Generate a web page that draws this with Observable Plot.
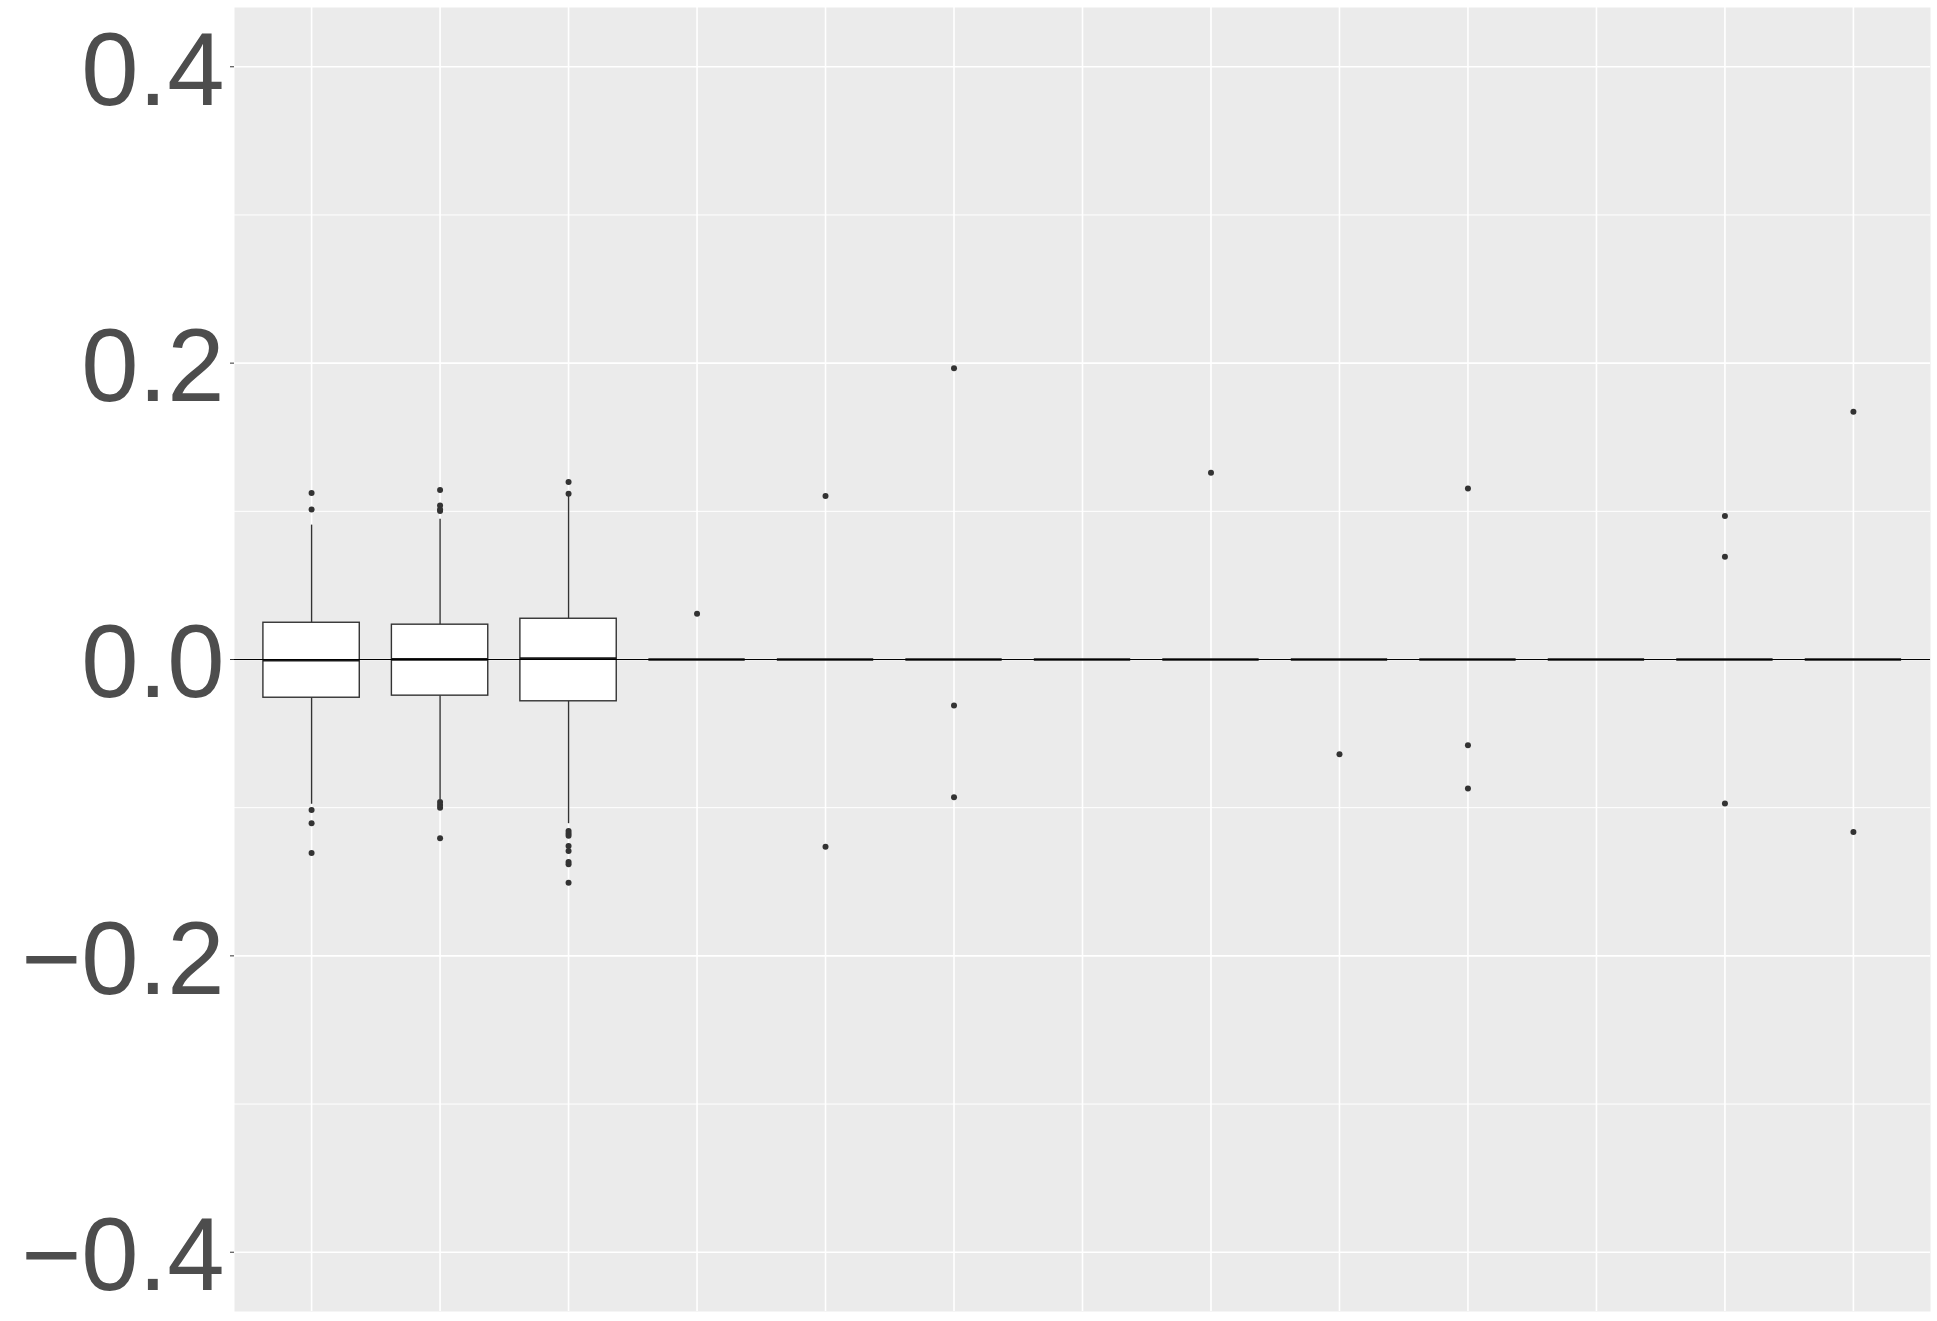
<!DOCTYPE html>
<html>
<head>
<meta charset="utf-8">
<script src="https://cdn.jsdelivr.net/npm/d3@7"></script>
<script src="https://cdn.jsdelivr.net/npm/@observablehq/plot@0.6"></script>
<style>
  html, body { margin: 0; padding: 0; background: #ffffff; }
  svg { display: block; }
</style>
</head>
<body>
<div id="chart"></div>
<script>
// ---- data ----
const categories = ["1","2","3","4","5","6","7","8","9","10","11","12","13"];
const q1        = [-0.0258, -0.0244, -0.0282, 0, 0, 0, 0, 0, 0, 0, 0, 0, 0];
const medians   = [-0.0005,  0.0001,  0.0006, 0, 0, 0, 0, 0, 0, 0, 0, 0, 0];
const q3        = [ 0.0248,  0.0235,  0.0275, 0, 0, 0, 0, 0, 0, 0, 0, 0, 0];
const whiskerLo = [-0.0977, -0.0945, -0.1108, 0, 0, 0, 0, 0, 0, 0, 0, 0, 0];
const whiskerHi = [ 0.0907,  0.0946,  0.1103, 0, 0, 0, 0, 0, 0, 0, 0, 0, 0];

const outlierCat = [
  "1","1","1","1","1",
  "2","2","2","2","2","2","2","2",
  "3","3","3","3","3","3","3","3","3","3",
  "4",
  "5","5",
  "6","6","6",
  "8",
  "9",
  "10","10","10",
  "12","12","12",
  "13","13"
];
const outlierValue = [
  0.1123, 0.1013, -0.1016, -0.1105, -0.1306,
  0.1144, 0.1040, 0.1013, 0.1002, -0.0962, -0.0982, -0.1000, -0.1207,
  0.1198, 0.1119, -0.1157, -0.1175, -0.1190, -0.1258, -0.1292, -0.1366, -0.1382, -0.1506,
  0.0308,
  0.1104, -0.1263,
  0.1965, -0.0311, -0.0930,
  0.1260,
  -0.0639,
  0.1154, -0.0578, -0.0870,
  0.0969, 0.0694, -0.0971,
  0.1672, -0.1164
];

const yMajorTicks = [-0.4, -0.2, 0, 0.2, 0.4];
const yMinorTicks = [-0.3, -0.1, 0.1, 0.3];

// ---- tables built from the arrays ----
const boxes = categories.map((c, i) => ({
  cat: c, q1: q1[i], med: medians[i], q3: q3[i], lo: whiskerLo[i], hi: whiskerHi[i]
}));
const outliers = outlierCat.map((c, i) => ({cat: c, value: outlierValue[i]}));

const chart = Plot.plot({
  width: 1937,
  height: 1321,
  marginLeft: 234,
  marginRight: 7,
  marginTop: 7,
  marginBottom: 10,
  style: {fontFamily: "'Liberation Sans', Arial, Helvetica, sans-serif", background: "#ffffff"},
  x: {domain: categories, type: "band", paddingInner: 0.25, paddingOuter: 0.225, round: false, axis: null},
  y: {domain: [-0.44, 0.44], axis: null},
  marks: [
    Plot.frame({fill: "#ebebeb", stroke: "none"}),
    Plot.ruleY(yMinorTicks, {y: d => d, stroke: "#ffffff", strokeWidth: 1.0}),
    Plot.ruleY(yMajorTicks, {y: d => d, stroke: "#ffffff", strokeWidth: 1.6}),
    Plot.ruleX(categories, {x: d => d, stroke: "#ffffff", strokeWidth: 1.6}),
    // whiskers
    Plot.ruleX(boxes, {x: "cat", y1: "lo", y2: "q1", stroke: "#333333", strokeWidth: 1.4}),
    Plot.ruleX(boxes, {x: "cat", y1: "q3", y2: "hi", stroke: "#333333", strokeWidth: 1.4}),
    // boxes
    Plot.barY(boxes, {x: "cat", y1: "q1", y2: "q3", fill: "#ffffff", stroke: "#333333", strokeWidth: 1.4}),
    // medians
    Plot.tickY(boxes, {x: "cat", y: "med", stroke: "#1a1a1a", strokeWidth: 2.6}),
    // outliers
    Plot.dot(outliers, {x: "cat", y: "value", r: 3, fill: "#333333", stroke: "none"}),
    // zero reference line
    Plot.ruleY([0], {stroke: "#000000", strokeWidth: 1.1}),
    // y axis ticks
    Plot.axisY(yMajorTicks, {
      tickFormat: () => "",
      tickSize: 4,
      stroke: "#333333"
    }),
    // y axis labels
    Plot.text(yMajorTicks, {
      y: d => d,
      text: d => d3.format(".1f")(d),
      frameAnchor: "left",
      textAnchor: "end",
      lineAnchor: "middle",
      dx: -10,
      dy: 5,
      fontSize: 103,
      fill: "#4d4d4d"
    })
  ]
});
document.getElementById("chart").appendChild(chart);
</script>
</body>
</html>
